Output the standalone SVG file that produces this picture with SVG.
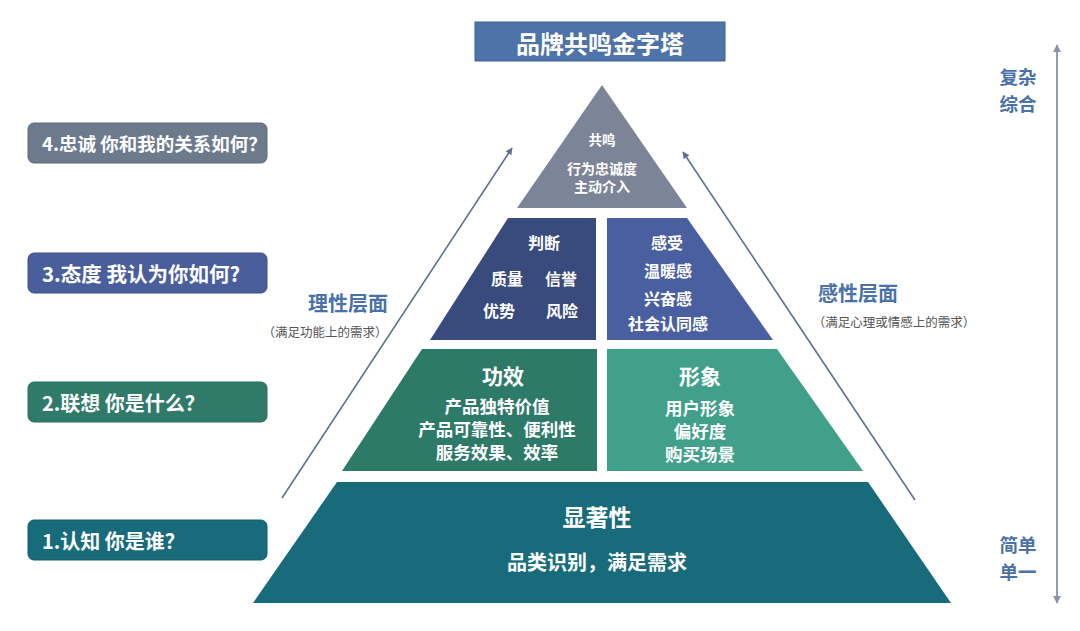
<svg xmlns="http://www.w3.org/2000/svg" width="1080" height="631" viewBox="0 0 1080 631">
<defs>
<style>
text{font-family:"Noto Sans CJK SC","Noto Sans",sans-serif;font-weight:700;text-anchor:middle;dominant-baseline:central;}
.w{fill:#ffffff;}
.q{fill:#ffffff;text-anchor:start;}
.side{fill:#4a72a8;}
.note{fill:#555555;font-weight:400;font-size:12.5px;}
.box{stroke-width:1;}
.arr{stroke:#5f7190;stroke-width:1.6;fill:none;}
.varr{stroke:#8494ad;stroke-width:1.8;fill:none;}
</style>
<marker id="ah" viewBox="0 0 10 10" refX="9" refY="5" markerWidth="7" markerHeight="7" orient="auto-start-reverse" markerUnits="userSpaceOnUse">
<path d="M0,0 L10,5 L0,10 z" fill="#5f7190"/>
</marker>
<marker id="vh" viewBox="0 0 10 10" refX="9" refY="5" markerWidth="8" markerHeight="8" orient="auto-start-reverse" markerUnits="userSpaceOnUse">
<path d="M0,0 L10,5 L0,10 z" fill="#8494ad"/>
</marker>
</defs>
<rect width="1080" height="631" fill="#ffffff"/>

<g id="connectors">
<line class="arr" x1="282" y1="498" x2="512" y2="148" marker-end="url(#ah)"/>
<line class="arr" x1="915" y1="500" x2="683" y2="152" marker-end="url(#ah)"/>
<line class="varr" x1="1057" y1="45" x2="1057" y2="603" marker-start="url(#vh)" marker-end="url(#vh)"/>
</g>

<g id="title">
<rect x="475" y="22" width="250" height="39" fill="#4d73a8" stroke="#3e6296" stroke-width="1"/>
<text class="w" x="600" y="42" font-size="24" font-weight="400">品牌共鸣金字塔</text>
</g>

<g id="tier-resonance">
<polygon points="602,85 687,208 517,208" fill="#7b8597"/>
<text class="w" x="602" y="139" font-size="13.5">共鸣</text>
<text class="w" x="602" y="168" font-size="14">行为忠诚度</text>
<text class="w" x="602" y="186" font-size="14">主动介入</text>
</g>

<g id="tier-judgment">
<polygon points="508,218 596,218 596,340 430,340" fill="#394a7c"/>
<text class="w" x="544" y="242" font-size="16">判断</text>
<text class="w" x="507" y="278" font-size="16">质量</text>
<text class="w" x="561" y="278" font-size="16">信誉</text>
<text class="w" x="499" y="310" font-size="16">优势</text>
<text class="w" x="562" y="310" font-size="16">风险</text>
</g>

<g id="tier-feelings">
<polygon points="607,218 687,218 773,340 607,340" fill="#4a5f9f"/>
<text class="w" x="667" y="242" font-size="16">感受</text>
<text class="w" x="668" y="270" font-size="16">温暖感</text>
<text class="w" x="668" y="298" font-size="16">兴奋感</text>
<text class="w" x="668" y="323" font-size="16">社会认同感</text>
</g>

<g id="tier-performance">
<polygon points="422,349 597,349 597,471 342,471" fill="#2e7a68"/>
<text class="w" x="503" y="375" font-size="21">功效</text>
<text class="w" x="497" y="405" font-size="17.5">产品独特价值</text>
<text class="w" x="497" y="428" font-size="17.5">产品可靠性、便利性</text>
<text class="w" x="497" y="451" font-size="17.5">服务效果、效率</text>
</g>

<g id="tier-imagery">
<polygon points="607,349 777,349 863,471 607,471" fill="#40a08a"/>
<text class="w" x="700" y="375" font-size="21">形象</text>
<text class="w" x="700" y="407" font-size="17.5">用户形象</text>
<text class="w" x="700" y="430" font-size="17.5">偏好度</text>
<text class="w" x="700" y="453" font-size="17.5">购买场景</text>
</g>

<g id="tier-salience">
<polygon points="337,482 868,482 951,603 253,603" fill="#186b7a"/>
<text class="w" x="597" y="516" font-size="23">显著性</text>
<text class="w" x="597" y="561" font-size="20">品类识别，满足需求</text>
</g>

<g id="q4">
<rect class="box" x="28" y="123" width="239" height="40" rx="6" fill="#6d7a8e" stroke="#5f6b7f"/>
<text class="q" x="42" y="143" font-size="18.5">4.忠诚 你和我的关系如何？</text>
</g>
<g id="q3">
<rect class="box" x="28" y="253" width="239" height="40" rx="6" fill="#4a5e9c" stroke="#3f5189"/>
<text class="q" x="42" y="273" font-size="20.5">3.态度 我认为你如何?</text>
</g>
<g id="q2">
<rect class="box" x="28" y="382" width="239" height="40" rx="6" fill="#2f7a69" stroke="#286a5b"/>
<text class="q" x="42" y="402" font-size="20">2.联想 你是什么？</text>
</g>
<g id="q1">
<rect class="box" x="28" y="520" width="239" height="40" rx="6" fill="#186b7a" stroke="#135d6a"/>
<text class="q" x="42" y="540" font-size="20">1.认知 你是谁？</text>
</g>

<g id="rational">
<text class="side" x="348" y="302" font-size="20">理性层面</text>
<text class="note" x="325" y="331">（满足功能上的需求）</text>
</g>
<g id="emotional">
<text class="side" x="858" y="292" font-size="20">感性层面</text>
<text class="note" x="894" y="321">（满足心理或情感上的需求）</text>
</g>

<g id="scale-top">
<text class="side" x="1018" y="76" font-size="18.5">复杂</text>
<text class="side" x="1018" y="103" font-size="18.5">综合</text>
</g>
<g id="scale-bottom">
<text class="side" x="1018" y="544" font-size="18.5">简单</text>
<text class="side" x="1018" y="571" font-size="18.5">单一</text>
</g>
</svg>
